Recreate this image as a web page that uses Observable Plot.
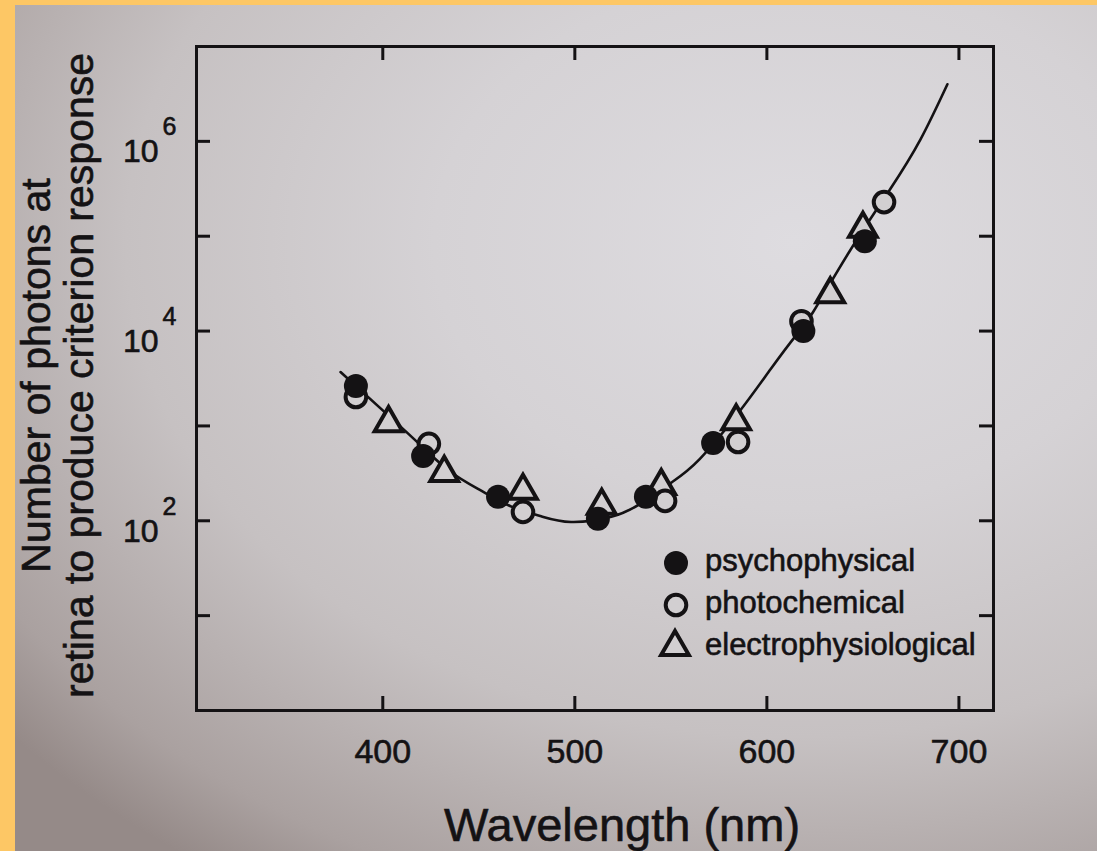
<!DOCTYPE html>
<html>
<head>
<meta charset="utf-8">
<script src="https://cdn.jsdelivr.net/npm/d3@7"></script>
<script src="https://cdn.jsdelivr.net/npm/@observablehq/plot@0.6"></script>
<style>
  html, body { margin: 0; padding: 0; background: #fdc765; }
  #wrap { position: relative; width: 1097px; height: 851px; background: #fdc765; overflow: hidden; }
  #paper { position: absolute; left: 15px; top: 5px; right: 0; bottom: 0;
    background: radial-gradient(ellipse 95% 90% at 72% 28%, #dedce0 0%, #d5d2d5 35%, #c6c1c2 65%, #aaa1a0 90%, #958a88 100%); }
  #chart { position: absolute; left: 0; top: 0; }
  #legend { position: absolute; left: 0; top: 0; pointer-events: none; }
  #chart text, #legend text { stroke: #141214; stroke-width: 0.6px; paint-order: stroke; }
</style>
</head>
<body>
<div id="wrap">
  <div id="paper"></div>
  <div id="chart"></div>
  <svg id="legend" width="1097" height="851"></svg>
</div>
<script>
// ---- data ----
const psychoWl = [386, 421, 460, 512, 537, 572, 619, 651];
const psychoN  = [2640, 483, 179, 105, 179, 662, 10000, 88500];

const photoWl = [386, 424, 473, 547, 585, 618, 661];
const photoN  = [2020, 647, 124, 162, 678, 12700, 229000];

const electroWl = [403, 432, 473, 514, 545, 584, 633, 650];
const electroN  = [1070, 320, 207, 144, 233, 1120, 24500, 120000];

const curveWl = [378, 404, 420, 435, 451, 467, 482, 498, 519, 534, 550, 565, 586, 602, 615, 624, 643, 664, 680, 694];
const curveN  = [3700, 1230, 617, 331, 209, 141, 112, 97, 110, 151, 251, 447, 1445, 3980, 8900, 15800, 69000, 309000, 1050000, 4000000];

const xTicks = [400, 500, 600, 700];
const yTicks = [1e1, 1e2, 1e3, 1e4, 1e5, 1e6];
const yLabelValues = [1e2, 1e4, 1e6];
const yLabelExponents = ["2", "4", "6"];
const yLabelBase = "10";

const seriesNames = ["psychophysical", "photochemical", "electrophysiological"];
const xTitle = "Wavelength (nm)";
const yTitle = "Number of photons at\nretina to produce criterion response";

// ---- build tables ----
const psycho = psychoWl.map((w, i) => ({wl: w, n: psychoN[i]}));
const photo = photoWl.map((w, i) => ({wl: w, n: photoN[i]}));
const electro = electroWl.map((w, i) => ({wl: w, n: electroN[i]}));
const curve = curveWl.map((w, i) => ({wl: w, n: curveN[i]}));
const yLabels = yLabelValues.map((v, i) => ({v, exp: yLabelExponents[i]}));

const ink = "#141214";
const paper = "#d2cfd1";
const font = "'Liberation Sans', Arial, Helvetica, sans-serif";

const W = 1097, H = 851, mL = 196, mR = 104, mT = 46, mB = 141;
const fw = W - mL - mR, fh = H - mT - mB, tl = 14;

const chart = Plot.plot({
  width: W, height: H,
  marginLeft: mL, marginRight: mR, marginTop: mT, marginBottom: mB,
  style: {background: "transparent", fontFamily: font, color: ink},
  x: {domain: [303, 718], axis: null},
  y: {type: "log", domain: [1, 1e7], axis: null},
  marks: [
    Plot.frame({stroke: ink, strokeWidth: 3}),
    Plot.tickX(xTicks, {x: d => d, insetTop: fh - tl, stroke: ink, strokeWidth: 3}),
    Plot.tickX(xTicks, {x: d => d, insetBottom: fh - tl, stroke: ink, strokeWidth: 3}),
    Plot.tickY(yTicks, {y: d => d, insetRight: fw - tl, stroke: ink, strokeWidth: 3}),
    Plot.tickY(yTicks, {y: d => d, insetLeft: fw - tl, stroke: ink, strokeWidth: 3}),
    Plot.axisX({ticks: xTicks, tickSize: 0, tickPadding: 28, fontSize: 34, label: null, fill: ink}),
    Plot.text(yLabels, {y: "v", text: () => yLabelBase, frameAnchor: "left", textAnchor: "end", lineAnchor: "bottom", dx: -38, dy: 21, fontSize: 32, fill: ink}),
    Plot.text(yLabels, {y: "v", text: "exp", frameAnchor: "left", textAnchor: "start", lineAnchor: "bottom", dx: -34, dy: -6, fontSize: 25, fill: ink}),
    Plot.text([xTitle], {frameAnchor: "bottom", textAnchor: "middle", lineAnchor: "bottom", dy: 130, dx: 27, fontSize: 47, fill: ink}),
    Plot.text([yTitle], {frameAnchor: "left", textAnchor: "middle", lineAnchor: "middle", rotate: -90, dx: -139, dy: -3, fontSize: 41, lineHeight: 1.05, fill: ink}),
    Plot.line(curve, {x: "wl", y: "n", curve: "natural", stroke: ink, strokeWidth: 2.6}),
    Plot.dot(electro, {x: "wl", y: "n", symbol: "triangle", r: 10.3, stroke: ink, strokeWidth: 4, fill: paper}),
    Plot.dot(photo, {x: "wl", y: "n", symbol: "circle", r: 10.3, stroke: ink, strokeWidth: 4, fill: paper}),
    Plot.dot(psycho, {x: "wl", y: "n", symbol: "circle", r: 12, fill: ink, stroke: "none"})
  ]
});
document.getElementById("chart").appendChild(chart);

// ---- legend ----
const lg = d3.select("#legend");
const rows = [
  {name: seriesNames[0], kind: "filled", cy: 563, by: 571},
  {name: seriesNames[1], kind: "open", cy: 605, by: 613},
  {name: seriesNames[2], kind: "tri", cy: 647, by: 655}
];
rows.forEach(r => {
  if (r.kind === "filled") {
    lg.append("circle").attr("cx", 676).attr("cy", r.cy).attr("r", 12).attr("fill", ink);
  } else if (r.kind === "open") {
    lg.append("circle").attr("cx", 676).attr("cy", r.cy).attr("r", 10.3).attr("fill", paper).attr("stroke", ink).attr("stroke-width", 4);
  } else {
    lg.append("path").attr("d", d3.symbol(d3.symbolTriangle, Math.PI * 10.3 * 10.3)())
      .attr("transform", `translate(675,${r.cy})`).attr("fill", paper).attr("stroke", ink).attr("stroke-width", 4);
  }
  lg.append("text").attr("x", 705).attr("y", r.by).attr("font-family", font).attr("font-size", 31).attr("fill", ink).text(r.name);
});
</script>
</body>
</html>
